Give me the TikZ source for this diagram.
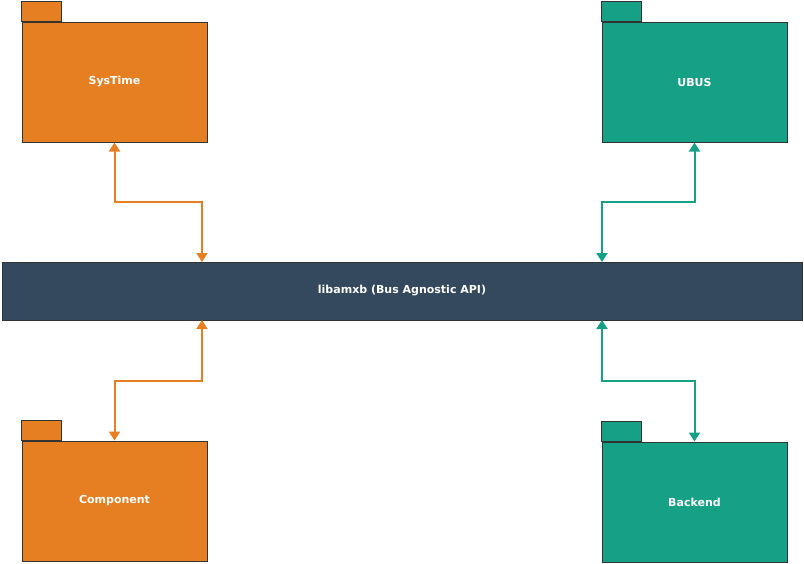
\documentclass[tikz,border=0pt]{standalone}
\usepackage{fontspec}
\setmainfont{DejaVu Sans}
\usetikzlibrary{arrows.meta}
\definecolor{pkgorange}{HTML}{E67E22}
\definecolor{pkgteal}{HTML}{16A085}
\definecolor{busdark}{HTML}{34495E}
\definecolor{edge}{HTML}{333333}
\begin{document}
\begin{tikzpicture}[x=1pt,y=-1pt,
  pkg/.style={draw=edge,line width=1pt,minimum width=185pt,minimum height=120pt,
    inner sep=0pt,text=white,font=\fontsize{11}{13}\selectfont\bfseries},
  link/.style={line width=2pt,{Triangle[length=9pt,width=11pt]}-{Triangle[length=9pt,width=11pt]}}]
\useasboundingbox (0,0) rectangle (804,563);
% packages
\node [pkg,fill=pkgorange] at (114.5,82) (systime) {SysTime};
\node [pkg,fill=pkgteal] at (694.5,82) (ubus) {UBUS};
\node [pkg,fill=pkgorange] at (114.5,501) (component) {Component};
\node [pkg,fill=pkgteal] at (694.5,502) (backend) {Backend};
\draw [draw=edge,fill=pkgorange] (systime.north west) rectangle ++(40,-20);
\draw [draw=edge,fill=pkgteal] (ubus.north west) rectangle ++(40,-20);
\draw [draw=edge,fill=pkgorange] (component.north west) rectangle ++(40,-20);
\draw [draw=edge,fill=pkgteal] (backend.north west) rectangle ++(40,-20);
% bus
\node [fill=busdark,draw=edge,minimum width=800pt,minimum height=58pt,text=white,
  font=\fontsize{11}{13}\selectfont\bfseries] at (402,291) (bus) {libamxb (Bus Agnostic API)};
\coordinate (tl) at (202,262);
\coordinate (tr) at (602,262);
\coordinate (bl) at (202,320);
\coordinate (br) at (602,320);
\draw [link,pkgorange] (systime.south) |- (158,202) -| (tl);
\draw [link,pkgteal] (ubus.south) |- (648,202) -| (tr);
\draw [link,pkgorange] (component.north) |- (158,381) -| (bl);
\draw [link,pkgteal] (backend.north) |- (648,381) -| (br);
\end{tikzpicture}
\end{document}
